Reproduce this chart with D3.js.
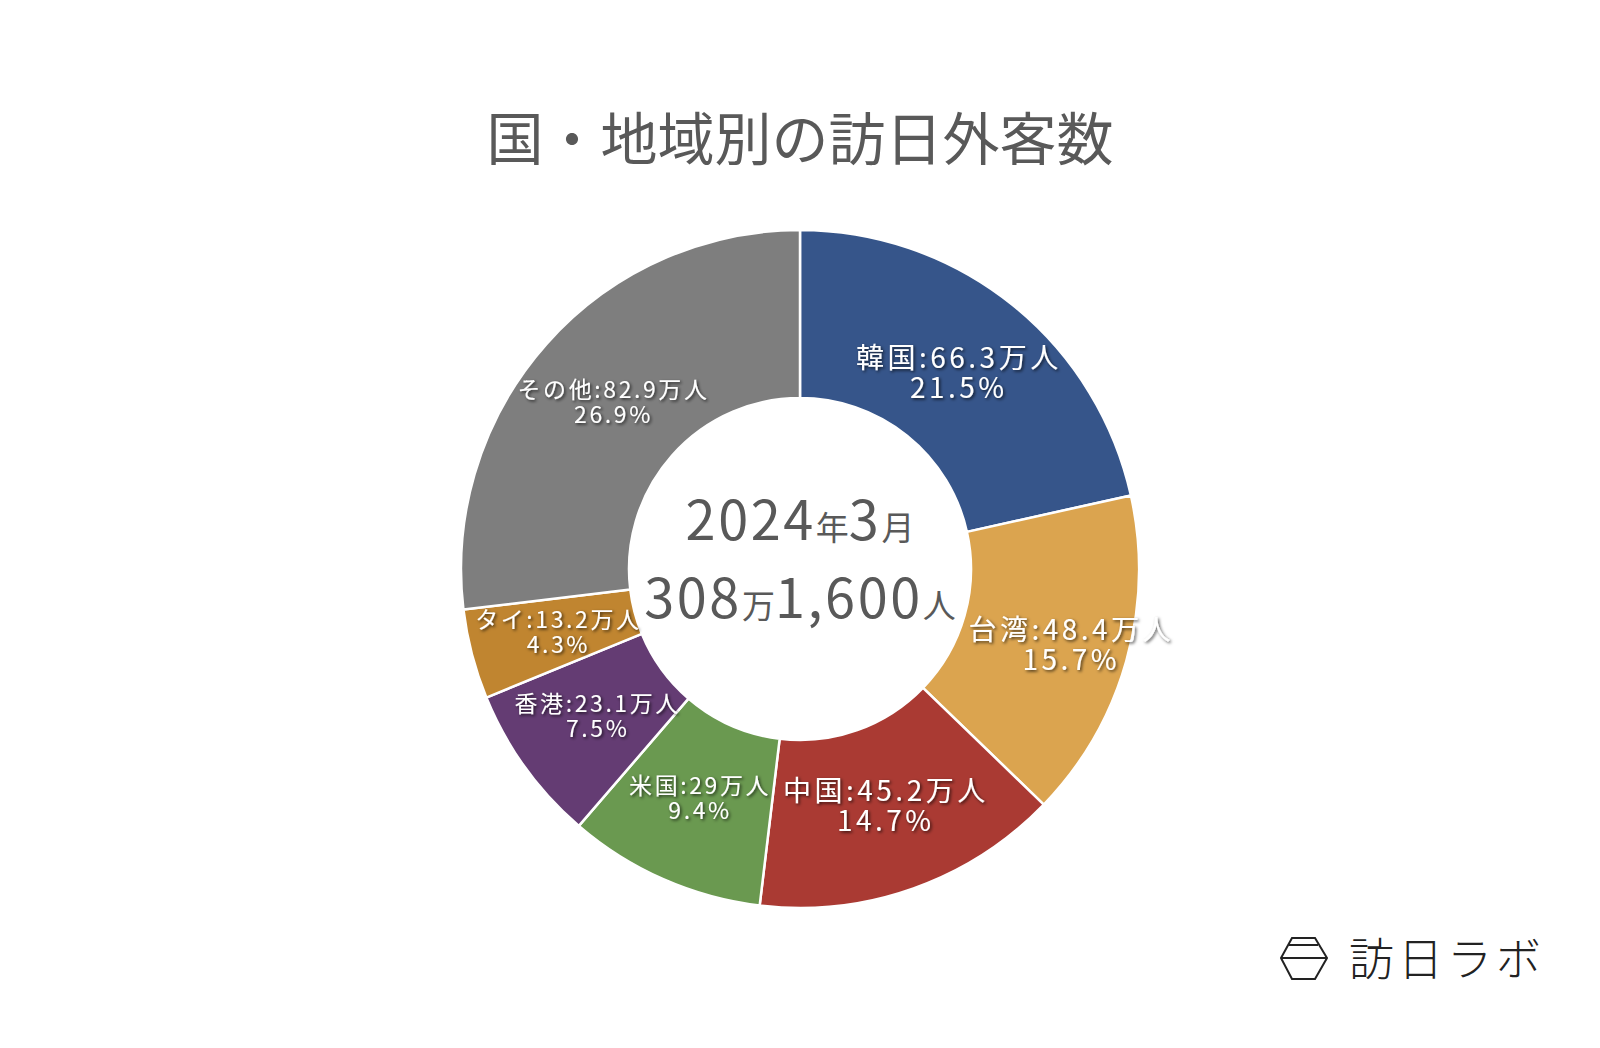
<!DOCTYPE html>
<html><head><meta charset="utf-8">
<script src="https://cdn.jsdelivr.net/npm/d3@7"></script>
<style>
html,body{margin:0;padding:0;background:#fff;}
svg{display:block;font-family:"Noto Sans CJK JP","Noto Sans",sans-serif;}
</style></head>
<body><svg id="chart" width="1600" height="1048"></svg>
<script>
const title = "国・地域別の訪日外客数";
const categories = ["韓国","台湾","中国","米国","香港","タイ","その他"];
const values = [66.3, 48.4, 45.2, 29, 23.1, 13.2, 82.9];
const colors = ["#36558A","#DBA44F","#AA3A33","#6A9950","#643C73","#C08530","#7E7E7E"];
const centerLine1 = [["2024",""],["年","s"],["3",""],["月","s"]];
const centerLine2 = [["308",""],["万","s"],["1,600",""],["人","s"]];
const brand = "訪日ラボ";

const svg = d3.select("#chart");
const cx = 800, cy = 569, rOuter = 339, rInner = 171;

const defs = svg.append("defs");
const f = defs.append("filter").attr("id","sh").attr("x","-20%").attr("y","-40%").attr("width","140%").attr("height","180%");
f.append("feDropShadow").attr("dx",1.5).attr("dy",1.5).attr("stdDeviation",1.8).attr("flood-color","#000").attr("flood-opacity",0.7);

svg.append("text").attr("x",800).attr("y",160).attr("text-anchor","middle")
  .attr("font-size",57).attr("fill","#595959").text(title);

const data = categories.map((c,i)=>({name:c, value:values[i], color:colors[i]}));
const total = d3.sum(values);
const pie = d3.pie().sort(null).value(d=>d.value).startAngle(0).endAngle(2*Math.PI);
const arcs = pie(data);
const arc = d3.arc().innerRadius(rInner).outerRadius(rOuter);

const g = svg.append("g").attr("transform",`translate(${cx},${cy})`);
g.selectAll("path").data(arcs).join("path")
  .attr("d",arc).attr("fill",d=>d.data.color)
  .attr("stroke","#fff").attr("stroke-width",2.5).attr("stroke-linejoin","round");

const big = new Set(["韓国","台湾","中国"]);
const pct = d3.format(".1%");
const lab = g.append("g").attr("filter","url(#sh)");
arcs.forEach(a=>{
  const mid = (a.startAngle+a.endAngle)/2;
  const r = a.data.name==="台湾" ? 280 : 251;
  const x = r*Math.sin(mid), y = -r*Math.cos(mid);
  const isBig = big.has(a.data.name);
  const fs = isBig ? 28 : 23;
  const lh = isBig ? 30 : 25;
  const ls = isBig ? 3.5 : 2.6;
  const t = lab.append("text").attr("text-anchor","middle").attr("fill","#fff")
    .attr("font-size",fs).attr("letter-spacing",ls);
  t.append("tspan").attr("x",x + ls/2).attr("y",y - lh/2 + fs*0.36).text(`${a.data.name}:${a.data.value}万人`);
  t.append("tspan").attr("x",x + ls/2).attr("y",y + lh/2 + fs*0.36).text(pct(a.data.value/total));
});

function centerText(parts, y){
  const t = svg.append("text").attr("x",cx).attr("y",y).attr("text-anchor","middle").attr("fill","#595959");
  parts.forEach(p=>{
    const s = p[1]==="s";
    t.append("tspan").attr("font-size",s?33:54).attr("letter-spacing",s?0:2.6).text(p[0]);
  });
}
centerText(centerLine1, 540);
centerText(centerLine2, 618);

// brand logo
const lg = svg.append("g").attr("fill","none").attr("stroke","#222").attr("stroke-width",2);
lg.append("path").attr("d",`M${1292},938 L${1315},938 L${1327},958 L${1315},979 L${1292},979 L${1281},958 Z`);
lg.append("line").attr("x1",1289).attr("x2",1318).attr("y1",945).attr("y2",945);
lg.append("line").attr("x1",1281).attr("x2",1327).attr("y1",958).attr("y2",958);
svg.append("text").attr("x",1349).attr("y",976).attr("font-size",45).attr("font-weight",300)
  .attr("letter-spacing",4).attr("fill","#222").text(brand);
</script></body></html>
